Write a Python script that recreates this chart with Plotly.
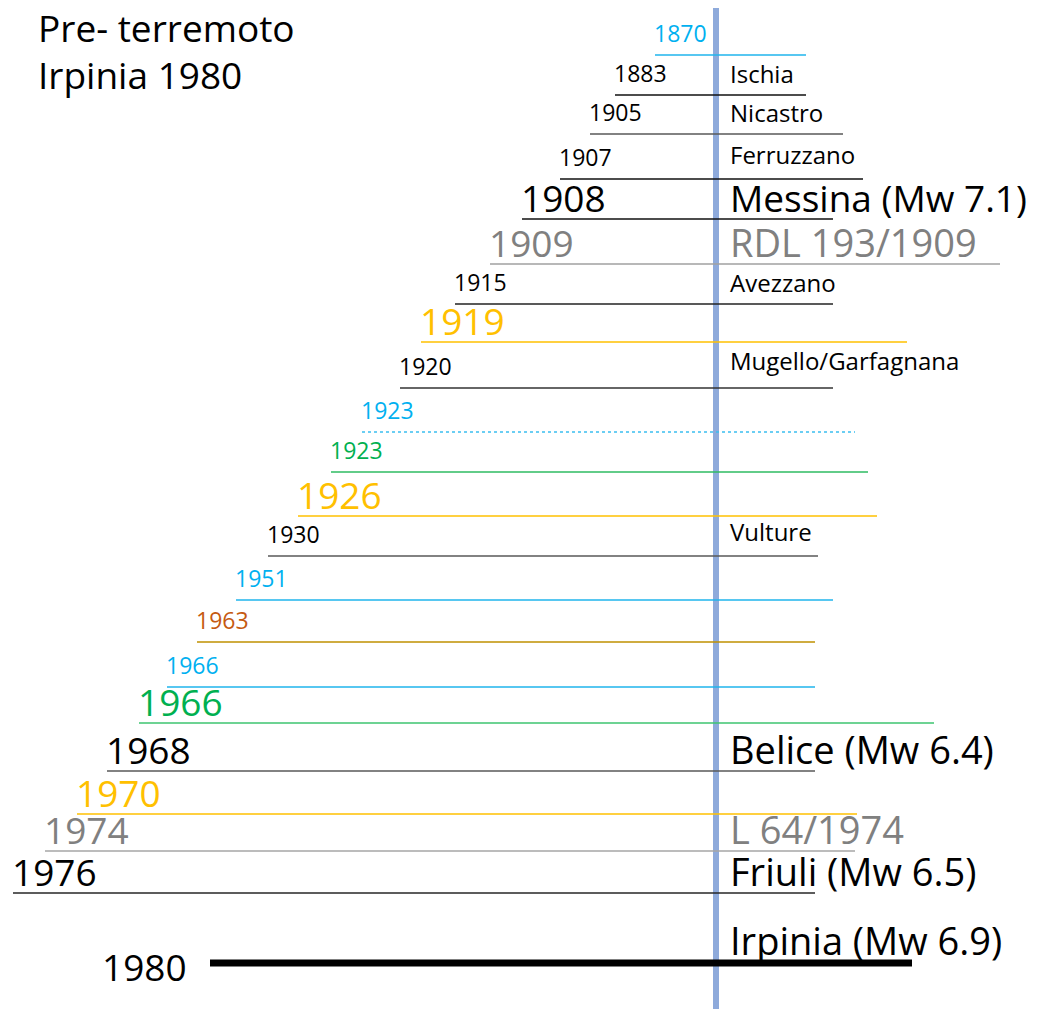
import plotly.graph_objects as go

# Events, top to bottom
years = ["1870", "1883", "1905", "1907", "1908", "1909", "1915", "1919", "1920", "1923",
         "1923", "1926", "1930", "1951", "1963", "1966", "1966", "1968", "1970", "1974",
         "1976", "1980"]
places = ["", "Ischia", "Nicastro", "Ferruzzano", "Messina (Mw 7.1)", "RDL 193/1909",
          "Avezzano", "", "Mugello/Garfagnana", "", "", "", "Vulture", "", "", "", "",
          "Belice (Mw 6.4)", "", "L 64/1974", "Friuli (Mw 6.5)", "Irpinia (Mw 6.9)"]
title_lines = ["Pre- terremoto", "Irpinia 1980"]

# layout (pixel-like units on a 1042 x 1009 canvas)
line_y = [55, 95, 134, 179, 219, 264, 304, 342, 388, 432, 472, 516, 556, 600, 642, 687,
          723, 771, 814, 851, 893, 963]
x_start = [655, 615, 590, 560, 522, 490, 455, 421, 400, 362, 331, 298, 268, 236, 197, 167,
           139, 107, 77, 45, 13, 210]
x_end = [806, 806, 843, 863, 833, 1000, 833, 907, 833, 855, 868, 877, 818, 833, 815, 815,
         934, 815, 857, 855, 815, 912]

BLUE, BLACK, GREY, YELLOW, GREEN, BROWN = "#00B0F0", "#000000", "#808080", "#FFC000", "#00B050", "#C55A11"
text_color = [BLUE, BLACK, BLACK, BLACK, BLACK, GREY, BLACK, YELLOW, BLACK, BLUE,
              GREEN, YELLOW, BLACK, BLUE, BROWN, BLUE, GREEN, BLACK, YELLOW, GREY, BLACK, BLACK]
line_color = ["#1FB4EC", "#111111", "#595959", "#111111", "#111111", "#A0A0A0", "#222222",
              "#FFC000", "#333333", "#3BBFF0", "#2EBB62", "#FFC000", "#595959", "#1FB4EC",
              "#BF9000", "#1FB4EC", "#3CC46F", "#595959", "#FFC000", "#A6A6A6", "#262626", "#000000"]
big = [False, False, False, False, True, True, False, True, False, False, False, True,
       False, False, False, False, True, True, True, True, True, True]

fig = go.Figure()

# vertical reference line
fig.add_trace(go.Scatter(x=[716, 716], y=[5, 1009], mode="lines",
                         line=dict(color="#8EAADB", width=6), hoverinfo="skip"))

for i, yr in enumerate(years):
    width = 7 if yr == "1980" else 1.5
    dash = "dot" if (yr == "1923" and text_color[i] == BLUE) else "solid"
    fig.add_trace(go.Scatter(x=[x_start[i], x_end[i]], y=[line_y[i], line_y[i]], mode="lines",
                             line=dict(color=line_color[i], width=width, dash=dash),
                             hoverinfo="skip"))
    size = 37 if big[i] else 23
    if yr == "1980":
        lx, ly = 100, 966
    else:
        lx, ly = x_start[i] - 3, line_y[i] - 22
    fig.add_annotation(x=lx, y=ly, text=yr, showarrow=False, xanchor="left", yanchor="middle",
                       font=dict(size=size, color=text_color[i]))
    if places[i]:
        py = line_y[i] - 22
        if places[i].startswith("Mugello"):
            py = line_y[i] - 28
        elif places[i].startswith("Irpinia"):
            py = 940
        elif places[i] in ("Vulture", "Ferruzzano"):
            py = line_y[i] - 25
        pcolor = GREY if text_color[i] == GREY else BLACK
        psize = 24
        if big[i]:
            psize = 37 if places[i].startswith("Messina") else 38
        fig.add_annotation(x=728, y=py, text=places[i], showarrow=False, xanchor="left",
                           yanchor="middle", font=dict(size=psize, color=pcolor))

# title, one annotation per line
for j, t in enumerate(title_lines):
    fig.add_annotation(x=36, y=27 + 47 * j, text=t, showarrow=False,
                       xanchor="left", yanchor="middle", align="left",
                       font=dict(size=37, color="black"))

# the page adds an 8px body margin, so the axis ranges are offset by 8 to compensate
fig.update_layout(
    width=1042, height=1009,
    margin=dict(l=0, r=0, t=0, b=0),
    paper_bgcolor="white", plot_bgcolor="white",
    showlegend=False,
    font=dict(family="Open Sans"),
    xaxis=dict(range=[8, 1050], visible=False, fixedrange=True),
    yaxis=dict(range=[1017, 8], visible=False, fixedrange=True),
)

fig.write_html("out.html")
